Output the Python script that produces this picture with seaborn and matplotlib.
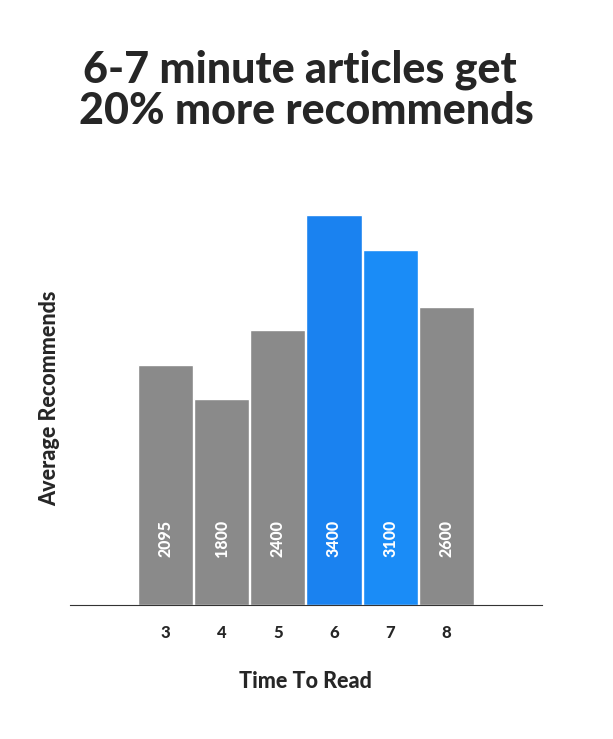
import matplotlib
matplotlib.use("Agg")
import matplotlib.pyplot as plt
import seaborn as sns
import pandas as pd

categories = ["3", "4", "5", "6", "7", "8"]
values = [2095, 1800, 2400, 3400, 3100, 2600]
colors = ["#8a8a8a", "#8a8a8a", "#8a8a8a", "#1a82f0", "#1a8cf7", "#8a8a8a"]

sns.set_style("white")
plt.rcParams['font.family'] = ['Lato', 'DejaVu Sans']

df = pd.DataFrame({"t": categories, "v": values})
fig = plt.figure(figsize=(6.13, 7.39), dpi=100)
ax = fig.add_axes([0.114, 0.181, 0.77, 0.559])
sns.barplot(data=df, x="t", y="v", hue="t", palette=colors, width=0.985,
            legend=False, ax=ax, saturation=1)
ax.set_xlim(-1.7, 6.7)
ax.set_ylim(0, 3600)
for i, v in enumerate(values):
    ax.text(i, 580, str(v), rotation=90, ha="center", va="center",
            color="white", fontweight="black", fontsize=11.5)
for s in ["top", "right", "left"]:
    ax.spines[s].set_visible(False)
ax.spines["bottom"].set_color("#333333")
ax.set_yticks([])
ax.tick_params(axis="x", length=0, pad=14)
for lbl in ax.get_xticklabels():
    lbl.set_fontweight("black"); lbl.set_fontsize(12)
ax.set_xlabel("Time To Read", fontsize=15.5, fontweight="black", labelpad=22)
ax.set_ylabel("Average Recommends", fontsize=15.5, fontweight="black")
ax.yaxis.set_label_coords(-0.02, 0.5)
fig.text(0.49, 0.905, "6-7 minute articles get", ha="center", va="center",
         fontsize=31, fontweight="black")
fig.text(0.5, 0.85, "20% more recommends", ha="center", va="center",
         fontsize=31, fontweight="black")
fig.savefig("out.png", dpi=100, facecolor="white")
